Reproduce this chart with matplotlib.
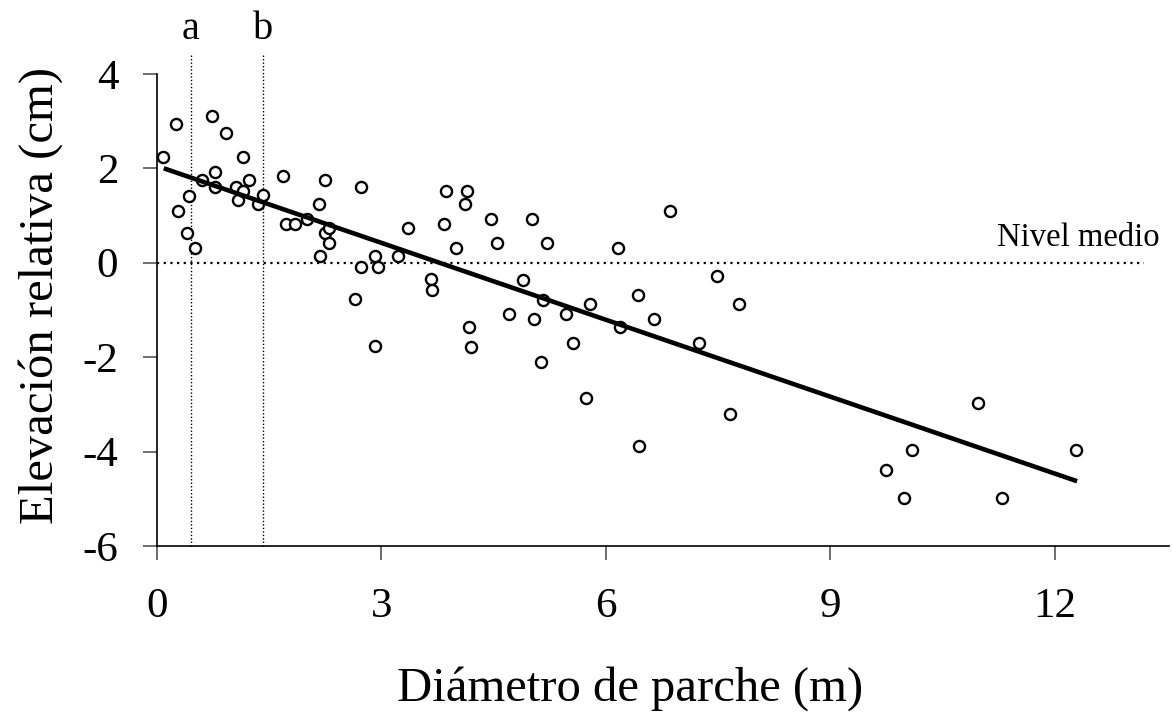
import matplotlib
matplotlib.use('Agg')
import matplotlib.pyplot as plt
import numpy as np

# diámetro de parche (m) y elevación relativa (cm) de cada parche
diametro = [0.08, 0.25, 0.28, 0.40, 0.43, 0.51, 0.60, 0.74, 0.77, 0.78,
            0.92, 1.06, 1.08, 1.15, 1.15, 1.23, 1.35, 1.41, 1.69, 1.72,
            1.84, 2.01, 2.16, 2.24, 2.25, 2.30, 2.30, 2.18, 2.73, 2.73,
            2.91, 2.96, 2.65, 2.91, 3.22, 3.36, 3.66, 3.68, 3.86, 4.15,
            4.12, 3.83, 4.46, 5.01, 4.00, 4.55, 5.21, 6.16, 6.86, 4.89,
            5.16, 5.79, 6.43, 4.70, 5.04, 5.47, 6.19, 6.65, 4.17, 4.20,
            5.56, 5.13, 5.73, 6.45, 7.25, 7.49, 7.78, 7.66, 10.97, 10.09,
            9.74, 9.98, 11.30, 12.28]
elevacion = [2.24, 2.93, 1.10, 0.64, 1.42, 0.32, 1.75, 3.11, 1.92, 1.60,
             2.75, 1.60, 1.33, 2.24, 1.52, 1.75, 1.24, 1.43, 1.83, 0.83,
             0.83, 0.93, 1.24, 1.75, 0.64, 0.74, 0.42, 0.14, 1.60, -0.08,
             0.14, -0.08, -0.77, -1.76, 0.14, 0.74, -0.35, -0.58, 1.51, 1.51,
             1.24, 0.83, 0.92, 0.92, 0.32, 0.42, 0.42, 0.32, 1.10, -0.36,
             -0.78, -0.87, -0.68, -1.09, -1.19, -1.09, -1.37, -1.19, -1.37, -1.78,
             -1.69, -2.10, -2.87, -3.88, -1.69, -0.28, -0.87, -3.20, -2.97, -3.97,
             -4.39, -4.98, -4.98, -3.97]

# recta de regresión
intercepto = 2.05
pendiente = -0.543
rango_ajuste = [0.09, 12.3]

# umbrales a y b
umbrales = [0.45, 1.42]
etiquetas_umbral = ['a', 'b']

xticks = [0, 3, 6, 9, 12]
yticks = [4, 2, 0, -2, -4, -6]

plt.rcParams['font.family'] = ['Liberation Serif', 'DejaVu Serif']

fig = plt.figure(figsize=(11.72, 7.25), dpi=100)
ax = fig.add_axes([0.134, 0.247, 0.8635, 0.651])

ax.plot(diametro, elevacion, 'o', mfc='white', mec='black', ms=8, mew=1.7,
        zorder=3)

xa = np.array(rango_ajuste)
ax.plot(xa, intercepto + pendiente * xa, color='black', lw=3.3, solid_capstyle='butt',
        zorder=4)

# nivel medio
ax.plot([0, 13.2], [0, 0], color='black', lw=1.6, ls=(0, (1, 2)), zorder=2)
ax.text(13.41, 0.2, 'Nivel medio', ha='right', va='bottom', fontsize=23.5)

for xu, et in zip(umbrales, etiquetas_umbral):
    ax.plot([xu, xu], [-6, 4.4], color='black', lw=1.0, ls=(0, (1, 1.5)),
            clip_on=False, zorder=2)
    ax.text(xu, 4.95, et, ha='center', va='center', fontsize=29)

ax.set_xlim(0, 13.53)
ax.set_ylim(-6, 4)
ax.set_xticks(xticks)
ax.set_yticks(yticks)
ax.set_xticklabels([str(v) for v in xticks])
ax.set_yticklabels([str(v) for v in yticks])

for s in ['top', 'right']:
    ax.spines[s].set_visible(False)
for s in ['left', 'bottom']:
    ax.spines[s].set_linewidth(1.2)

ax.tick_params(axis='both', direction='out', length=10, width=1.2,
               color='#555555', labelsize=31)
ax.tick_params(axis='x', pad=20)
ax.tick_params(axis='y', pad=18)

ax.set_xlabel('Diámetro de parche (m)', fontsize=35)
ax.set_ylabel('Elevación relativa (cm)', fontsize=35)
ax.xaxis.set_label_coords(0.467, -0.255)
ax.yaxis.set_label_coords(-0.093, 0.53)

fig.savefig('out.png', dpi=100)
